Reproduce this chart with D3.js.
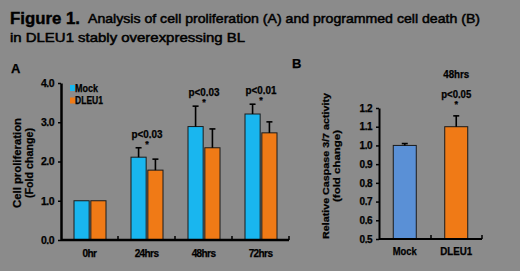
<!DOCTYPE html>
<html><head><meta charset="utf-8">
<script src="https://cdn.jsdelivr.net/npm/d3@7"></script>
<style>
html,body{margin:0;padding:0;background:#8b8b8b;}
svg{display:block;font-family:"Liberation Sans",Arial,sans-serif;}
text{fill:#000;}
</style></head>
<body><svg id="c" width="520" height="271"></svg>
<script>
// ---- data ----
const categoriesA = ["0hr", "24hrs", "48hrs", "72hrs"];
const seriesA = ["Mock", "DLEU1"];
const mockA = [1.0, 2.11, 2.89, 3.21];
const mockErrA = [0.0, 0.24, 0.52, 0.25];
const dleuA = [1.0, 1.78, 2.35, 2.73];
const dleuErrA = [0.0, 0.28, 0.48, 0.28];
const pLabelsA = ["", "p<0.03", "p<0.03", "p<0.01"];
const ticksA = [0, 1, 2, 3, 4];

const categoriesB = ["Mock", "DLEU1"];
const valuesB = [1.0, 1.1];
const errB = [0.01, 0.058];
const ticksB = [0.5, 0.6, 0.7, 0.8, 0.9, 1.0, 1.1, 1.2];

const colMock = "#19b6ef", colDleu = "#f07a16", colMockB = "#5a90d6";

const svg = d3.select("#c");
svg.append("rect").attr("width",520).attr("height",271).attr("fill","#8b8b8b");

function lbl(sel, txt, size, len){
  const t = sel.append("text").attr("font-size",size).attr("font-weight","bold")
    .attr("fill","#000").attr("stroke","#000").attr("stroke-width",0.25).text(txt);
  if(len) t.attr("textLength",len).attr("lengthAdjust","spacingAndGlyphs");
  return t;
}

// title
lbl(svg,"Figure 1.",16,70).attr("x",10).attr("y",24).attr("stroke-width",0.4);
lbl(svg,"Analysis of cell proliferation (A) and programmed cell death (B)",13,392).attr("x",88).attr("y",23).attr("font-weight","normal").attr("stroke-width",0.5);
lbl(svg,"in DLEU1 stably overexpressing BL",13,235).attr("x",10).attr("y",42).attr("font-weight","normal").attr("stroke-width",0.5);

lbl(svg,"A",13).attr("x",11).attr("y",73);
lbl(svg,"B",13).attr("x",292).attr("y",68);

// ---- Panel A ----
const yA = d3.scaleLinear().domain([0,4]).range([240,83]);
const x0 = d3.scaleBand().domain(categoriesA).range([61,289]).padding(0);
const x1 = d3.scaleBand().domain(seriesA).range([13,45]).paddingInner(0.1).paddingOuter(0);
const gA = svg.append("g");

const dataA = categoriesA.map((c,i)=>({c, vals:[
  {s:"Mock", v:mockA[i], e:mockErrA[i], col:colMock},
  {s:"DLEU1", v:dleuA[i], e:dleuErrA[i], col:colDleu}]}));

const grp = gA.selectAll("g.grp").data(dataA).join("g").attr("transform",d=>`translate(${x0(d.c)},0)`);
grp.selectAll("rect").data(d=>d.vals).join("rect")
  .attr("x",d=>x1(d.s)).attr("width",x1.bandwidth())
  .attr("y",d=>yA(d.v)).attr("height",d=>yA(0)-yA(d.v))
  .attr("fill",d=>d.col).attr("stroke","#1a1a1a").attr("stroke-width",1);
grp.selectAll("g.err").data(d=>d.vals.filter(v=>v.e>0)).join("g").each(function(d){
  const g = d3.select(this), cx = x1(d.s)+x1.bandwidth()/2;
  g.append("line").attr("x1",cx).attr("x2",cx).attr("y1",yA(d.v)).attr("y2",yA(d.v+d.e)).attr("stroke","#000").attr("stroke-width",1.6);
  g.append("line").attr("x1",cx-3).attr("x2",cx+3).attr("y1",yA(d.v+d.e)).attr("y2",yA(d.v+d.e)).attr("stroke","#000").attr("stroke-width",1.6);
});
dataA.forEach((d,i)=>{
  if(!pLabelsA[i]) return;
  const top = Math.max(d.vals[0].v+d.vals[0].e, d.vals[1].v+d.vals[1].e);
  const cx = x0(d.c)+29;
  lbl(gA,pLabelsA[i],10,31).attr("x",cx-15.5).attr("y",yA(top)-10);
  lbl(gA,"*",9).attr("x",cx).attr("y",yA(top)-1).attr("text-anchor","middle");
});
// axes A
const axYA = d3.axisLeft(yA).tickValues(ticksA).tickFormat(d3.format(".1f")).tickSize(3).tickSizeOuter(0);
const gy = gA.append("g").attr("transform","translate(61,0)").call(axYA);
gy.select(".domain").attr("stroke","#000").attr("stroke-width",2.5);
gy.selectAll(".tick line").attr("stroke","#000").attr("stroke-width",1.5);
gy.selectAll(".tick text").attr("font-size",10.5).attr("font-weight","bold").attr("letter-spacing",-0.5)
  .attr("fill","#000").attr("stroke","#000").attr("stroke-width",0.25).attr("x",-7);
const gx = gA.append("g").attr("transform","translate(0,240)");
gx.append("line").attr("x1",61).attr("x2",289).attr("stroke","#000").attr("stroke-width",2.5);
gx.selectAll("line.t").data(categoriesA).join("line").attr("class","t")
  .attr("x1",d=>x0(d)+x0.bandwidth()).attr("x2",d=>x0(d)+x0.bandwidth()).attr("y1",0).attr("y2",-4)
  .attr("stroke","#000").attr("stroke-width",1.5);
categoriesA.forEach(c=>{
  lbl(gx,c,10).attr("x",x0(c)+x0.bandwidth()/2).attr("y",17).attr("text-anchor","middle").attr("letter-spacing",-0.6);
});
// y label A
const ylA = gA.append("g").attr("transform","translate(21,163) rotate(-90)");
lbl(ylA,"Cell proliferation",10,90).attr("x",-45);
lbl(ylA,"(Fold change)",10,70).attr("x",-35).attr("y",12);
// legend
seriesA.forEach((s,i)=>{
  const ly = 88 + i*12.5;
  gA.append("rect").attr("x",70).attr("y",ly-3).attr("width",5).attr("height",6).attr("fill",i?colDleu:colMock);
  lbl(gA,s,10,i?28:23).attr("x",75).attr("y",ly+3.5);
});

// ---- Panel B ----
const yB = d3.scaleLinear().domain([0.5,1.2]).range([239,108]);
const xB = d3.scaleBand().domain(categoriesB).range([379,482]).paddingInner(0.553).paddingOuter(0.277);
const gB = svg.append("g");
gB.selectAll("rect").data(categoriesB).join("rect")
  .attr("x",d=>xB(d)).attr("width",xB.bandwidth())
  .attr("y",(d,i)=>yB(valuesB[i])).attr("height",(d,i)=>yB(0.5)-yB(valuesB[i]))
  .attr("fill",(d,i)=>i?colDleu:colMockB).attr("stroke","#1a1a1a").attr("stroke-width",1);
categoriesB.forEach((c,i)=>{
  const cx = xB(c)+xB.bandwidth()/2, t = yB(valuesB[i]+errB[i]);
  gB.append("line").attr("x1",cx).attr("x2",cx).attr("y1",yB(valuesB[i])).attr("y2",t).attr("stroke","#000").attr("stroke-width",1.6);
  gB.append("line").attr("x1",cx-3).attr("x2",cx+3).attr("y1",t).attr("y2",t).attr("stroke","#000").attr("stroke-width",1.6);
});
const cxD = xB("DLEU1")+xB.bandwidth()/2;
lbl(gB,"48hrs",10,26).attr("x",cxD-13).attr("y",78);
lbl(gB,"p<0.05",10,30).attr("x",cxD-15).attr("y",98);
lbl(gB,"*",9).attr("x",cxD).attr("y",107).attr("text-anchor","middle");
const axYB = d3.axisLeft(yB).tickValues(ticksB).tickFormat(d3.format(".1f")).tickSize(3).tickSizeOuter(0);
const gyB = gB.append("g").attr("transform","translate(379,0)").call(axYB);
gyB.select(".domain").attr("stroke","#000").attr("stroke-width",2);
gyB.selectAll(".tick line").attr("stroke","#000").attr("stroke-width",1.5);
gyB.selectAll(".tick text").attr("font-size",10).attr("font-weight","bold").attr("letter-spacing",-0.5)
  .attr("fill","#000").attr("stroke","#000").attr("stroke-width",0.25).attr("x",-7);
const gxB = gB.append("g").attr("transform","translate(0,239)");
gxB.append("line").attr("x1",379).attr("x2",482).attr("stroke","#000").attr("stroke-width",2);
gxB.selectAll("line.t").data(categoriesB).join("line").attr("class","t")
  .attr("x1",(d,i)=>i? 482 : 431).attr("x2",(d,i)=>i?482:431).attr("y1",0).attr("y2",-4)
  .attr("stroke","#000").attr("stroke-width",1.5);
categoriesB.forEach((c,i)=>{
  lbl(gxB,c,10.5,i?32:24).attr("x",xB(c)+xB.bandwidth()/2-(i?16:12)).attr("y",16);
});
const ylB = gB.append("g").attr("transform","translate(329,166) rotate(-90)");
lbl(ylB,"Relative Caspase 3/7 activity",9.5,146).attr("x",-73);
lbl(ylB,"(fold change)",9.5,72).attr("x",-36).attr("y",11);
</script></body></html>
